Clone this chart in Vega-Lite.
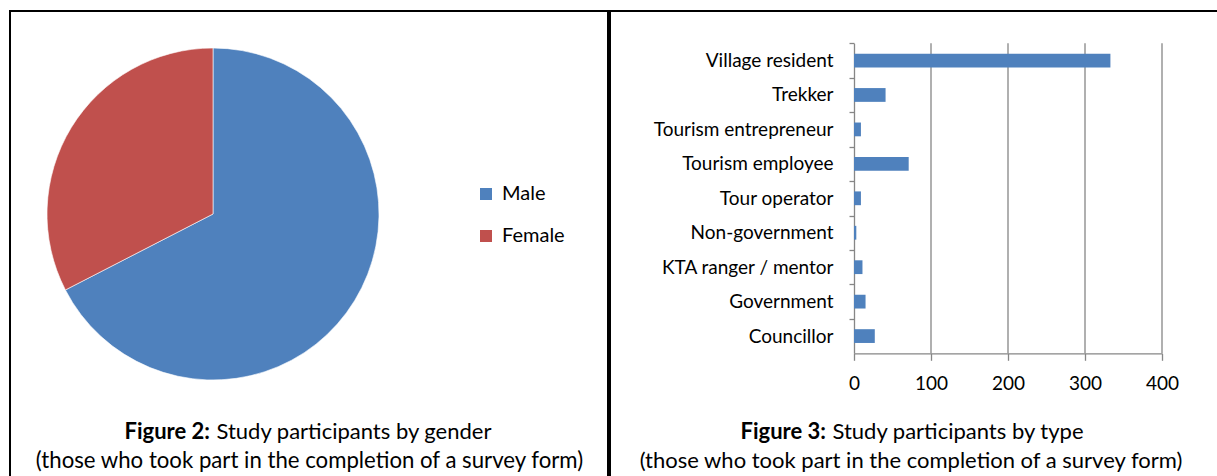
{
  "$schema": "https://vega.github.io/schema/vega-lite/v6.json",
  "background": "white",
  "padding": {"left": 9, "top": 10, "right": 0, "bottom": 0},
  "spacing": 0,
  "config": {
    "font": "Lato",
    "view": {"stroke": "black", "strokeWidth": 2},
    "text": {"color": "black"}
  },
  "hconcat": [
    {
      "width": 598,
      "height": 466,
      "layer": [
        {
          "data": {"values": [{"gender": "Male", "count": 350}, {"gender": "Female", "count": 169}]},
          "mark": {"type": "arc", "radius": 166, "stroke": "white", "strokeWidth": 0.6},
          "encoding": {
            "theta": {"field": "count", "type": "quantitative", "stack": true},
            "order": {"field": "count", "sort": "descending"},
            "color": {
              "field": "gender", "type": "nominal",
              "scale": {"domain": ["Male", "Female"], "range": ["#4F81BD", "#C0504D"]},
              "legend": {
                "orient": "none", "legendX": 466, "legendY": 173, "title": null,
                "symbolType": "square", "symbolSize": 144, "symbolStrokeWidth": 0,
                "labelFontSize": 20, "labelColor": "black", "labelOffset": 6, "rowPadding": 22
              }
            },
            "x": {"value": 203},
            "y": {"value": 203}
          }
        },
        {
          "data": {"values": [{}]},
          "mark": {"type": "text", "text": "Figure 2:", "fontWeight": "bold", "fontSize": 22, "align": "right", "baseline": "alphabetic", "x": 200, "y": 428},
          "encoding": {}
        },
        {
          "data": {"values": [{}]},
          "mark": {"type": "text", "text": "Study participants by gender", "fontSize": 22, "align": "left", "baseline": "alphabetic", "x": 206.5, "y": 428},
          "encoding": {}
        },
        {
          "data": {"values": [{}]},
          "mark": {"type": "text", "text": "(those who took part in the completion of a survey form)", "fontSize": 22.2, "align": "center", "baseline": "alphabetic", "x": 299.5, "y": 457},
          "encoding": {}
        }
      ]
    },
    {
      "width": 610,
      "height": 466,
      "resolve": {"scale": {"y": "independent"}},
      "layer": [
        {
          "data": {"values": [{"v": 100}, {"v": 200}, {"v": 300}, {"v": 400}]},
          "mark": {"type": "rule", "color": "#868686", "strokeWidth": 1.3},
          "encoding": {
            "x": {
              "field": "v", "type": "quantitative",
              "scale": {"domain": [0, 400], "range": [244, 552], "nice": false, "zero": true},
              "axis": {
                "values": [0, 100, 200, 300, 400], "offset": -123.7, "grid": false, "title": null, "labelFlush": false,
                "domainColor": "#868686", "domainWidth": 1.3, "tickColor": "#868686", "tickWidth": 1.3, "tickSize": 7,
                "labelFontSize": 19, "labelColor": "black", "labelPadding": 14
              }
            },
            "y": {"datum": 0, "type": "quantitative", "scale": {"domain": [0, 1], "range": [32.3, 342.3]}, "axis": null},
            "y2": {"datum": 1}
          }
        },
        {
          "data": {
            "values": [
              {"type": "Village resident", "n": 333},
              {"type": "Trekker", "n": 41},
              {"type": "Tourism entrepreneur", "n": 9},
              {"type": "Tourism employee", "n": 71},
              {"type": "Tour operator", "n": 9},
              {"type": "Non-government", "n": 3},
              {"type": "KTA ranger / mentor", "n": 11},
              {"type": "Government", "n": 15},
              {"type": "Councillor", "n": 27}
            ]
          },
          "mark": {"type": "bar", "color": "#4F81BD"},
          "encoding": {
            "x": {
              "field": "n", "type": "quantitative",
              "scale": {"domain": [0, 400], "range": [244, 552], "nice": false, "zero": true},
              "axis": {
                "values": [0, 100, 200, 300, 400], "offset": -123.7, "grid": false, "title": null, "labelFlush": false,
                "domainColor": "#868686", "domainWidth": 1.3, "tickColor": "#868686", "tickWidth": 1.3, "tickSize": 7,
                "labelFontSize": 19, "labelColor": "black", "labelPadding": 14
              }
            },
            "y": {
              "field": "type", "type": "nominal", "sort": null,
              "scale": {"range": [32.3, 342.3], "paddingInner": 0.6, "paddingOuter": 0.3},
              "axis": {
                "title": null, "offset": -244, "tickOffset": -17.2, "labelOffset": 17.2,
                "tickSize": 5, "labelPadding": 16, "grid": false,
                "domainColor": "#868686", "domainWidth": 1.3, "tickColor": "#868686", "tickWidth": 1.3,
                "labelFontSize": 19, "labelColor": "black"
              }
            }
          }
        },
        {
          "data": {"values": [{}]},
          "mark": {"type": "text", "text": "Figure 3:", "fontWeight": "bold", "fontSize": 22, "align": "right", "baseline": "alphabetic", "x": 216, "y": 428},
          "encoding": {}
        },
        {
          "data": {"values": [{}]},
          "mark": {"type": "text", "text": "Study participants by type", "fontSize": 22, "align": "left", "baseline": "alphabetic", "x": 222.5, "y": 428},
          "encoding": {}
        },
        {
          "data": {"values": [{}]},
          "mark": {"type": "text", "text": "(those who took part in the completion of a survey form)", "fontSize": 22, "align": "center", "baseline": "alphabetic", "x": 301, "y": 457},
          "encoding": {}
        }
      ]
    }
  ]
}
